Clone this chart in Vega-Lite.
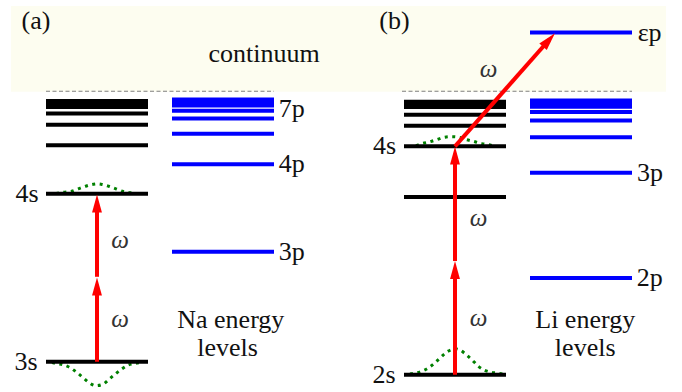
{
  "$schema": "https://vega.github.io/schema/vega-lite/v6.json",
  "width": 682,
  "height": 392,
  "padding": 0,
  "autosize": {"type": "fit", "contains": "padding"},
  "background": "#ffffff",
  "config": {"view": {"stroke": null}},
  "datasets": {
    "bg": [{"x": 11, "x2": 666, "y": 6, "y2": 92}],
    "thr": [{"x": 46, "x2": 274, "y": 91.5}, {"x": 402, "x2": 632, "y": 91.5}],
    "levels": [
      {"kind": "s", "x": 46, "x2": 148, "y": 101.3},
      {"kind": "s", "x": 46, "x2": 148, "y": 103.4},
      {"kind": "s", "x": 46, "x2": 148, "y": 105.4},
      {"kind": "s", "x": 46, "x2": 148, "y": 107.3},
      {"kind": "s", "x": 46, "x2": 148, "y": 113.7},
      {"kind": "s", "x": 46, "x2": 148, "y": 125},
      {"kind": "s", "x": 46, "x2": 148, "y": 145.7},
      {"kind": "s", "x": 46, "x2": 148, "y": 194.3},
      {"kind": "s", "x": 46, "x2": 148, "y": 362.7},
      {"kind": "p", "x": 172, "x2": 274, "y": 99.7},
      {"kind": "p", "x": 172, "x2": 274, "y": 101.7},
      {"kind": "p", "x": 172, "x2": 274, "y": 103.7},
      {"kind": "p", "x": 172, "x2": 274, "y": 105.7},
      {"kind": "p", "x": 172, "x2": 274, "y": 111},
      {"kind": "p", "x": 172, "x2": 274, "y": 118.7},
      {"kind": "p", "x": 172, "x2": 274, "y": 134},
      {"kind": "p", "x": 172, "x2": 274, "y": 164.7},
      {"kind": "p", "x": 172, "x2": 274, "y": 252.3},
      {"kind": "s", "x": 404, "x2": 506, "y": 102},
      {"kind": "s", "x": 404, "x2": 506, "y": 104},
      {"kind": "s", "x": 404, "x2": 506, "y": 105.5},
      {"kind": "s", "x": 404, "x2": 506, "y": 107.3},
      {"kind": "s", "x": 404, "x2": 506, "y": 115},
      {"kind": "s", "x": 404, "x2": 506, "y": 126},
      {"kind": "s", "x": 404, "x2": 506, "y": 146.7},
      {"kind": "s", "x": 404, "x2": 506, "y": 197.5},
      {"kind": "s", "x": 404, "x2": 506, "y": 375.7},
      {"kind": "p", "x": 530, "x2": 632, "y": 32.7},
      {"kind": "p", "x": 530, "x2": 632, "y": 100.7},
      {"kind": "p", "x": 530, "x2": 632, "y": 102.7},
      {"kind": "p", "x": 530, "x2": 632, "y": 105},
      {"kind": "p", "x": 530, "x2": 632, "y": 107},
      {"kind": "p", "x": 530, "x2": 632, "y": 112.2},
      {"kind": "p", "x": 530, "x2": 632, "y": 120.7},
      {"kind": "p", "x": 530, "x2": 632, "y": 137.7},
      {"kind": "p", "x": 530, "x2": 632, "y": 173.3},
      {"kind": "p", "x": 530, "x2": 632, "y": 278.7}
    ],
    "curves": [
      {"c": "a4s", "x": 56, "y": 194}, {"c": "a4s", "x": 63.3, "y": 192.7}, {"c": "a4s", "x": 71.7, "y": 191.7}, {"c": "a4s", "x": 78.3, "y": 189.3}, {"c": "a4s", "x": 85.7, "y": 186.7}, {"c": "a4s", "x": 93.3, "y": 184.7}, {"c": "a4s", "x": 97, "y": 184.3}, {"c": "a4s", "x": 101, "y": 184.7}, {"c": "a4s", "x": 108.7, "y": 186.7}, {"c": "a4s", "x": 116, "y": 189.3}, {"c": "a4s", "x": 123.3, "y": 192}, {"c": "a4s", "x": 130.7, "y": 193.3}, {"c": "a4s", "x": 137, "y": 194},
      {"c": "a3s", "x": 52, "y": 363.5}, {"c": "a3s", "x": 56, "y": 364.3}, {"c": "a3s", "x": 63.3, "y": 365.7}, {"c": "a3s", "x": 70.7, "y": 369}, {"c": "a3s", "x": 76.7, "y": 373.3}, {"c": "a3s", "x": 82.7, "y": 378.3}, {"c": "a3s", "x": 88.7, "y": 383.3}, {"c": "a3s", "x": 96, "y": 386.7}, {"c": "a3s", "x": 103.3, "y": 385}, {"c": "a3s", "x": 109.3, "y": 380}, {"c": "a3s", "x": 115.3, "y": 375}, {"c": "a3s", "x": 121.7, "y": 370}, {"c": "a3s", "x": 128.3, "y": 366}, {"c": "a3s", "x": 135.7, "y": 364.3}, {"c": "a3s", "x": 140, "y": 363.5},
      {"c": "b4s", "x": 416, "y": 146}, {"c": "b4s", "x": 421.7, "y": 144}, {"c": "b4s", "x": 429.3, "y": 142.3}, {"c": "b4s", "x": 436.7, "y": 140}, {"c": "b4s", "x": 444, "y": 137.7}, {"c": "b4s", "x": 451.7, "y": 137}, {"c": "b4s", "x": 459.3, "y": 137.7}, {"c": "b4s", "x": 466.7, "y": 140}, {"c": "b4s", "x": 473.3, "y": 141.7}, {"c": "b4s", "x": 481.7, "y": 144}, {"c": "b4s", "x": 488.3, "y": 145}, {"c": "b4s", "x": 494, "y": 146.5},
      {"c": "b2s", "x": 410, "y": 375}, {"c": "b2s", "x": 414, "y": 374.3}, {"c": "b2s", "x": 421.7, "y": 372.3}, {"c": "b2s", "x": 428.3, "y": 369}, {"c": "b2s", "x": 434.3, "y": 364.3}, {"c": "b2s", "x": 440, "y": 359}, {"c": "b2s", "x": 445.7, "y": 353.7}, {"c": "b2s", "x": 452.3, "y": 350.3}, {"c": "b2s", "x": 456, "y": 349.8}, {"c": "b2s", "x": 460, "y": 351}, {"c": "b2s", "x": 466.7, "y": 356}, {"c": "b2s", "x": 472.3, "y": 361}, {"c": "b2s", "x": 477.7, "y": 366.7}, {"c": "b2s", "x": 484.3, "y": 371}, {"c": "b2s", "x": 491.7, "y": 373.3}, {"c": "b2s", "x": 499, "y": 374.3}, {"c": "b2s", "x": 503, "y": 375}
    ],
    "shafts": [
      {"x": 97, "y": 362.7, "x2": 97, "y2": 287},
      {"x": 97, "y": 277.5, "x2": 97, "y2": 204},
      {"x": 455, "y": 375.7, "x2": 455, "y2": 271},
      {"x": 455, "y": 261.7, "x2": 455, "y2": 156},
      {"x": 455, "y": 146.7, "x2": 549, "y2": 40.1}
    ],
    "heads": [
      {"x": 97, "y": 287.3, "angle": 0},
      {"x": 97, "y": 204, "angle": 0},
      {"x": 455, "y": 270.7, "angle": 0},
      {"x": 455, "y": 156, "angle": 0},
      {"x": 549, "y": 40.1, "angle": 41.4}
    ],
    "tcenter": [
      {"t": "(a)", "x": 36, "y": 29},
      {"t": "(b)", "x": 394.5, "y": 29},
      {"t": "continuum", "x": 264, "y": 62.5},
      {"t": "Na energy", "x": 230.8, "y": 329.3},
      {"t": "levels", "x": 227.5, "y": 356.7},
      {"t": "Li energy", "x": 585.2, "y": 329.3},
      {"t": "levels", "x": 585.2, "y": 356.7}
    ],
    "tomega": [
      {"t": "ω", "x": 120, "y": 248.5},
      {"t": "ω", "x": 120, "y": 327.5},
      {"t": "ω", "x": 478.7, "y": 226.7},
      {"t": "ω", "x": 478.7, "y": 327.3},
      {"t": "ω", "x": 488.7, "y": 77.3}
    ],
    "tleft": [
      {"t": "7p", "x": 278.7, "y": 117.3},
      {"t": "4p", "x": 278.7, "y": 172.3},
      {"t": "3p", "x": 278.7, "y": 260.3},
      {"t": "εp", "x": 637.7, "y": 41},
      {"t": "3p", "x": 637, "y": 181.5},
      {"t": "2p", "x": 636.7, "y": 287}
    ],
    "tright": [
      {"t": "4s", "x": 38.5, "y": 202.5},
      {"t": "3s", "x": 37.5, "y": 370.5},
      {"t": "4s", "x": 396, "y": 154.5},
      {"t": "2s", "x": 395.5, "y": 383.7}
    ]
  },
  "encoding": {
    "x": {"field": "x", "type": "quantitative", "scale": {"domain": [0, 682], "nice": false, "zero": false}, "axis": null},
    "y": {"field": "y", "type": "quantitative", "scale": {"domain": [0, 392], "reverse": true, "nice": false, "zero": false}, "axis": null}
  },
  "layer": [
    {
      "data": {"name": "bg"},
      "mark": {"type": "rect", "fill": "#fdfdf0", "stroke": null},
      "encoding": {"x2": {"field": "x2"}, "y2": {"field": "y2"}}
    },
    {
      "data": {"name": "thr"},
      "mark": {"type": "rule", "stroke": "#808080", "strokeWidth": 1.2, "strokeDash": [4, 2.5]},
      "encoding": {"x2": {"field": "x2"}}
    },
    {
      "data": {"name": "curves"},
      "mark": {"type": "line", "stroke": "#008000", "strokeWidth": 3, "strokeDash": [3, 4.5], "interpolate": "monotone"},
      "encoding": {"detail": {"field": "c", "type": "nominal"}}
    },
    {
      "data": {"name": "levels"},
      "mark": {"type": "rule", "strokeWidth": 4},
      "encoding": {
        "x2": {"field": "x2"},
        "color": {"field": "kind", "type": "nominal", "scale": {"domain": ["s", "p"], "range": ["#000000", "#0000ff"]}, "legend": null}
      }
    },
    {
      "data": {"name": "shafts"},
      "mark": {"type": "rule", "stroke": "#ff0000", "strokeWidth": 4},
      "encoding": {"x2": {"field": "x2"}, "y2": {"field": "y2"}}
    },
    {
      "data": {"name": "heads"},
      "mark": {"type": "point", "shape": "M0,-1L0.55,1L-0.55,1Z", "size": 324, "filled": true, "fill": "#ff0000", "stroke": null, "opacity": 1},
      "encoding": {"angle": {"field": "angle", "type": "quantitative", "scale": null}}
    },
    {
      "data": {"name": "tcenter"},
      "mark": {"type": "text", "font": "Liberation Serif", "fontSize": 26, "align": "center", "baseline": "alphabetic", "color": "#111111"},
      "encoding": {"text": {"field": "t"}}
    },
    {
      "data": {"name": "tomega"},
      "mark": {"type": "text", "font": "Liberation Serif", "fontSize": 25, "fontStyle": "italic", "align": "center", "baseline": "alphabetic", "color": "#333333"},
      "encoding": {"text": {"field": "t"}}
    },
    {
      "data": {"name": "tleft"},
      "mark": {"type": "text", "font": "Liberation Serif", "fontSize": 26, "align": "left", "baseline": "alphabetic", "color": "#111111"},
      "encoding": {"text": {"field": "t"}}
    },
    {
      "data": {"name": "tright"},
      "mark": {"type": "text", "font": "Liberation Serif", "fontSize": 26, "align": "right", "baseline": "alphabetic", "color": "#111111"},
      "encoding": {"text": {"field": "t"}}
    }
  ]
}
